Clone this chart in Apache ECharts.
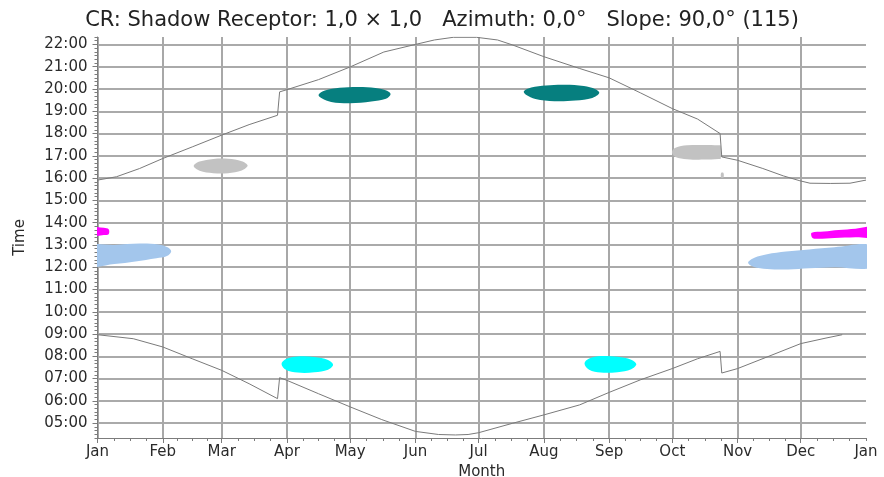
<!DOCTYPE html>
<html><head><meta charset="utf-8">
<script src="https://cdn.jsdelivr.net/npm/echarts@6/dist/echarts.min.js"></script>
<style>html,body{margin:0;padding:0;background:#fff}#c{width:884px;height:477px}</style>
</head><body><div id="c"></div>
<script>
// ---- axis data ----
const monthNames = ['Jan','Feb','Mar','Apr','May','Jun','Jul','Aug','Sep','Oct','Nov','Dec','Jan'];
const monthStartDays = [0,31,59,90,120,151,181,212,243,273,304,334,365];
const hourTicks = [5,6,7,8,9,10,11,12,13,14,15,16,17,18,19,20,21,22];
const hourLabels = ['05:00','06:00','07:00','08:00','09:00','10:00','11:00','12:00','13:00','14:00','15:00','16:00','17:00','18:00','19:00','20:00','21:00','22:00'];
const yMin = 4 + 20/60, yMax = 22 + 20/60;

// ---- sunset / sunrise curves: [dayOfYear, hour] ----
const sunsetCurve = [[0,15.91],[9,16.06],[20,16.43],[31,16.88],[45,17.4],[59,17.93],[72,18.4],[85.5,18.82],[86.5,19.87],[90,19.97],[105,20.42],[120,20.99],[136,21.66],[151,22.0],[160,22.2],[169,22.32],[180,22.32],[190,22.2],[197,21.98],[212,21.45],[229,20.92],[243,20.5],[258,19.82],[273,19.12],[285,18.65],[295.7,18.0],[296.5,16.95],[304,16.8],[316,16.43],[325.7,16.1],[333.6,15.88],[338.4,15.77],[348,15.76],[357.4,15.77],[365,15.91]];
const sunriseCurve = [[0,8.97],[17,8.79],[31,8.42],[45,7.89],[59,7.37],[72,6.77],[85.5,6.1],[86.5,7.04],[90,6.92],[105,6.32],[120,5.73],[135,5.16],[151,4.63],[162,4.49],[170,4.47],[176,4.49],[181,4.57],[197,4.99],[212,5.37],[229,5.82],[243,6.38],[258,6.95],[273,7.45],[285,7.89],[295.7,8.22],[296.5,7.25],[304,7.45],[318,7.97],[334,8.57],[346,8.82],[353.7,8.97]];

// ---- shadow areas (outline, [day, hour]) ----
const blueJan = [[-4,12.95],[8,13.0],[20,13.06],[29,13.02],[33.5,12.88],[35,12.7],[33,12.5],[28,12.4],[18,12.26],[8,12.14],[-4,12.06]];
const magentaJan = [[-3,13.78],[3,13.77],[5.3,13.7],[5.3,13.48],[3,13.44],[-3,13.43]];
const grayMar = [[45.7,16.54],[48.5,16.74],[55,16.86],[62,16.87],[68.5,16.76],[71.3,16.56],[68.5,16.34],[62,16.22],[55,16.22],[48.5,16.33]];
const tealMay = [[105,19.74],[108,19.93],[115,20.05],[124,20.09],[132,20.04],[137.5,19.92],[139.2,19.76],[137,19.56],[130,19.44],[120,19.36],[111,19.42],[106.5,19.58]];
const tealAug = [[202.5,19.9],[206,20.07],[213,20.16],[222,20.19],[231,20.13],[236.5,19.99],[238.3,19.82],[235,19.6],[227,19.48],[217,19.45],[208,19.55],[203.5,19.74]];
const cyanApr = [[87.4,7.66],[89.5,7.88],[95,7.99],[103,7.97],[109.5,7.84],[111.9,7.62],[109.5,7.4],[103,7.28],[95,7.27],[89.5,7.4]];
const cyanSep = [[231.3,7.68],[233.5,7.9],[239,8.01],[247,7.98],[253.5,7.85],[255.9,7.64],[253.5,7.42],[247,7.29],[239,7.27],[233.5,7.4]];
const grayOct = [[272.8,17.16],[274.5,17.36],[280,17.47],[288,17.49],[295,17.47],[296,17.45],[296,16.87],[295,16.86],[288,16.83],[280,16.85],[274.5,16.95]];
const grayDot = [[296.2,16.23],[297.3,16.23],[297.3,16.03],[296.2,16.03]];
const magentaDec = [[339.2,13.55],[345,13.6],[352,13.67],[360,13.73],[368,13.79],[368,13.36],[360,13.34],[350,13.31],[341,13.28],[339.3,13.35]];
const blueDec = [[309,12.2],[312,12.42],[318,12.58],[327,12.7],[338,12.8],[350,12.9],[368,12.96],[368,12.01],[350,12.0],[338,11.95],[328,11.9],[318,11.92],[311.5,12.02]];

// ---- derived tick positions (axis structure only) ----
const monthLines = monthStartDays.slice(0, 12);
const minorDays = [];
for (let i = 0; i < 12; i++) {
  const a = monthStartDays[i], b = monthStartDays[i + 1];
  for (let k = 1; k <= 3; k++) minorDays.push(a + k * (b - a) / 4);
}
minorDays.push(365);
const minorHours = [];
for (let m = 4 * 60 + 20; m <= 22 * 60 + 20; m += 10) minorHours.push(m / 60);

const FONT = 'DejaVu Sans';
const TXT = '#2a2a2a';
const AX = '#7c7c7c';

function blob(pts, color) {
  return {
    type: 'custom', coordinateSystem: 'cartesian2d', xAxisIndex: 0, yAxisIndex: 0,
    clip: true, silent: true, z: 3, data: pts, encode: { x: 0, y: 1 },
    renderItem: function (params, api) {
      if (params.dataIndex !== 0) return null;
      return {
        type: 'polygon',
        shape: { points: pts.map(p => api.coord(p)), smooth: 0.35 },
        style: { fill: color, stroke: null }
      };
    }
  };
}
function curve(pts) {
  return {
    type: 'line', data: pts, xAxisIndex: 0, yAxisIndex: 0, showSymbol: false, symbol: 'none',
    clip: true, silent: true, z: 4, lineStyle: { color: '#7a7a7a', width: 1 }
  };
}

const chart = echarts.init(document.getElementById('c'), null, { renderer: 'canvas' });
chart.setOption({
  backgroundColor: '#ffffff',
  animation: false,
  title: {
    text: 'CR: Shadow Receptor: 1,0 × 1,0   Azimuth: 0,0°   Slope: 90,0° (115)',
    left: 'center', top: 5,
    textStyle: { fontFamily: FONT, fontSize: 21, fontWeight: 'normal', color: '#222' }
  },
  grid: { left: 97.5, right: 18, top: 37, bottom: 39, outerBoundsMode: 'none' },
  xAxis: [{
    type: 'value', min: 0, max: 365, position: 'bottom',
    name: 'Month', nameLocation: 'middle', nameGap: 21,
    nameTextStyle: { fontFamily: FONT, fontSize: 15, color: TXT },
    axisLine: { show: true, lineStyle: { color: AX, width: 1 } },
    axisTick: { show: true, customValues: monthLines, length: 5, lineStyle: { color: AX } },
    axisLabel: {
      customValues: monthStartDays, margin: 7, fontFamily: FONT, fontSize: 15, color: TXT,
      formatter: v => monthNames[monthStartDays.indexOf(v)]
    },
    splitLine: { show: true, lineStyle: { color: '#a8a8a8', width: 2 } }
  }, {
    type: 'value', min: 0, max: 365, position: 'bottom',
    axisLine: { show: false }, axisLabel: { show: false }, splitLine: { show: false },
    axisTick: { show: true, customValues: minorDays, length: 3, lineStyle: { color: AX } }
  }],
  yAxis: [{
    type: 'value', min: yMin, max: yMax, position: 'left',
    name: 'Time', nameLocation: 'middle', nameGap: 70,
    nameTextStyle: { fontFamily: FONT, fontSize: 15, color: TXT },
    axisLine: { show: true, lineStyle: { color: AX, width: 1 } },
    axisTick: { show: true, customValues: hourTicks, length: 5, lineStyle: { color: AX } },
    axisLabel: {
      customValues: hourTicks, margin: 10, fontFamily: FONT, fontSize: 15, color: TXT,
      formatter: v => hourLabels[hourTicks.indexOf(v)]
    },
    splitLine: { show: true, lineStyle: { color: '#8e8e8e', width: 1.5 } }
  }, {
    type: 'value', min: yMin, max: yMax, position: 'left',
    axisLine: { show: false }, axisLabel: { show: false }, splitLine: { show: false },
    axisTick: { show: true, customValues: minorHours, length: 3, lineStyle: { color: AX } }
  }],
  series: [
    blob(blueJan, '#a3c6ec'),
    blob(magentaJan, '#ff00ff'),
    blob(grayMar, '#c2c2c2'),
    blob(tealMay, '#067f7f'),
    blob(tealAug, '#067f7f'),
    blob(cyanApr, '#00ffff'),
    blob(cyanSep, '#00ffff'),
    blob(grayOct, '#c2c2c2'),
    blob(grayDot, '#c2c2c2'),
    blob(magentaDec, '#ff00ff'),
    blob(blueDec, '#a3c6ec'),
    curve(sunsetCurve),
    curve(sunriseCurve)
  ]
});
</script></body></html>
